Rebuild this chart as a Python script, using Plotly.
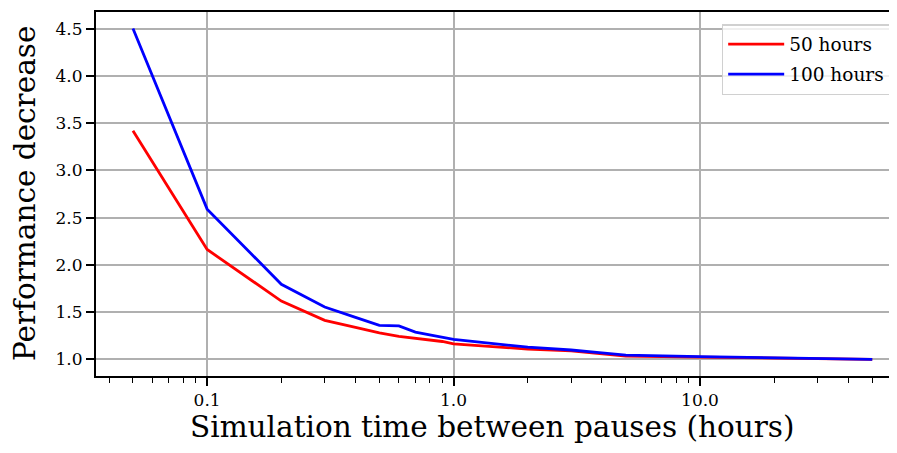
import plotly.graph_objects as go

# 暂停间隔（小时）
pause_hours = [0.05, 0.1, 0.2, 0.3, 0.4, 0.5, 0.6, 0.7, 0.8, 0.9, 1.0, 2.0, 3.0, 4.0, 5.0, 10.0, 50.0]

# 性能下降
perf_50h = [3.42, 2.163, 1.618, 1.414, 1.34, 1.28, 1.244, 1.226, 1.21, 1.19, 1.165, 1.11, 1.09, 1.06, 1.035, 1.025, 1.0]
perf_100h = [4.5, 2.59, 1.795, 1.555, 1.445, 1.36, 1.355, 1.29, 1.26, 1.235, 1.212, 1.13, 1.1, 1.07, 1.045, 1.03, 1.0]

x_ticks = [0.1, 1.0, 10.0]
x_tick_text = ["0.1", "1.0", "10.0"]
y_ticks = [1.0, 1.5, 2.0, 2.5, 3.0, 3.5, 4.0, 4.5]

font_family = "DejaVu Serif"

fig = go.Figure()
fig.add_trace(go.Scatter(x=pause_hours, y=perf_50h, mode="lines", name="50 hours",
                         legendgroup="a", line=dict(color="#ff0000", width=2.8)))
fig.add_trace(go.Scatter(x=pause_hours, y=perf_100h, mode="lines", name="100 hours",
                         legendgroup="b", line=dict(color="#0000ff", width=2.8)))

# 页面 body 有 8px 边距，所以图比窗口小 16px
fig.update_layout(
    width=881, height=437,
    margin=dict(l=88, r=0, t=4, b=69, autoexpand=False),
    plot_bgcolor="white", paper_bgcolor="white",
    font=dict(family=font_family, color="black"),
    legend=dict(x=0.789, y=0.967, xanchor="left", yanchor="top",
                bgcolor="rgba(255,255,255,0.8)", bordercolor="#d0d0d0", borderwidth=1.5,
                itemwidth=56, tracegroupgap=3,
                font=dict(size=18.5, family=font_family)),
)

# 坐标轴标题用注释放，位置更好控制
fig.add_annotation(text="Simulation time between pauses (hours)", xref="paper", yref="paper",
                   x=0.5, y=-0.1896, xanchor="center", yanchor="bottom", borderpad=0,
                   showarrow=False, font=dict(size=29.5))
fig.add_annotation(text="Performance decrease", xref="paper", yref="paper",
                   x=-0.0895, y=0.5, xanchor="center", yanchor="middle", textangle=-90,
                   showarrow=False, font=dict(size=29.5))

fig.update_xaxes(
    type="log", range=[-1.451, 1.767],
    tickvals=x_ticks, ticktext=x_tick_text,
    ticks="outside", ticklen=8, tickwidth=1.5, tickcolor="black",
    tickfont=dict(size=17),
    showgrid=True, gridcolor="#b0b0b0", gridwidth=1.6,
    showline=True, linecolor="black", linewidth=2, mirror=True,
    minor=dict(ticks="outside", ticklen=5, tickwidth=1.2, tickcolor="black",
               dtick="D1", showgrid=False),
    zeroline=False,
)

fig.update_yaxes(
    range=[0.825, 4.675],
    tickvals=y_ticks, tickformat=".1f",
    ticks="outside", ticklen=8, tickwidth=1.5, tickcolor="black",
    tickfont=dict(size=17),
    showgrid=True, gridcolor="#b0b0b0", gridwidth=1.6,
    showline=True, linecolor="black", linewidth=2, mirror=False,
    zeroline=False,
)

fig.write_html("out.html")
